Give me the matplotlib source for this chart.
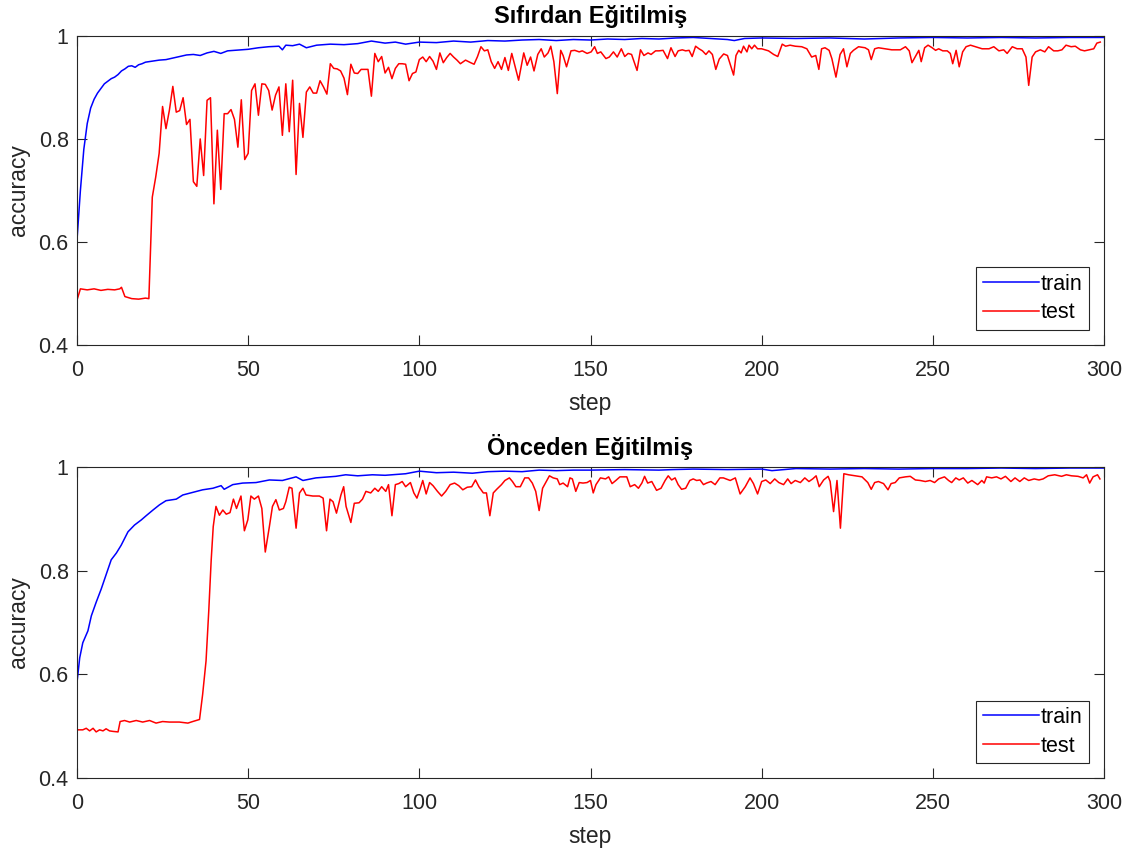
import matplotlib
matplotlib.use("Agg")
import matplotlib.pyplot as plt

plt.rcParams['font.family'] = ['Liberation Sans', 'DejaVu Sans']

# ---------------- data ----------------
step_ticks = [0, 50, 100, 150, 200, 250, 300]
acc_ticks = [0.4, 0.6, 0.8, 1.0]
acc_tick_labels = ['0.4', '0.6', '0.8', '1']

titles = ['Sıfırdan Eğitilmiş', 'Önceden Eğitilmiş']

# scratch model - train
scratch_train_step = [
    0, 1, 2, 3, 4, 5, 6, 7, 8, 9,
    10, 11, 12, 13, 14, 15, 16, 17, 18, 19,
    20, 22, 24, 26, 28, 30, 32, 34, 36, 38,
    40, 42, 44, 46, 48, 50, 53, 56, 59, 60,
    61, 63, 65, 67, 70, 74, 78, 82, 86, 90,
    93, 96, 100, 105, 110, 115, 120, 125, 130, 135,
    140, 145, 150, 155, 160, 165, 170, 175, 180, 185,
    190, 192, 195, 200, 210, 220, 230, 240, 250, 260,
    270, 280, 290, 300]
scratch_train_acc = [
    0.603, 0.70, 0.78, 0.83, 0.86, 0.877, 0.889, 0.898, 0.907, 0.912,
    0.917, 0.92, 0.925, 0.932, 0.936, 0.941, 0.942, 0.939, 0.944, 0.946,
    0.949, 0.951, 0.953, 0.954, 0.957, 0.96, 0.963, 0.964, 0.962, 0.967,
    0.97, 0.966, 0.971, 0.972, 0.973, 0.974, 0.977, 0.979, 0.98, 0.973,
    0.982, 0.981, 0.984, 0.977, 0.982, 0.984, 0.983, 0.985, 0.99, 0.986,
    0.988, 0.984, 0.988, 0.987, 0.99, 0.988, 0.991, 0.99, 0.992, 0.993,
    0.991, 0.993, 0.992, 0.994, 0.993, 0.995, 0.994, 0.996, 0.997, 0.995,
    0.993, 0.991, 0.995, 0.996, 0.995, 0.996, 0.994, 0.996, 0.997, 0.996,
    0.997, 0.996, 0.997, 0.997]

# scratch model - test
scratch_test_step = [
    0, 1, 3, 5, 7, 9, 11, 12.5, 13, 14,
    16, 18, 20, 21, 22, 23, 24, 25, 26, 27,
    28, 29, 30, 31, 32, 33, 34, 35, 36, 37,
    38, 39, 40, 41, 42, 43, 44, 45, 46, 47,
    48, 49, 50, 51, 52, 53, 54, 55, 56, 57,
    58, 59, 60, 61, 62, 63, 64, 65, 66, 67,
    68, 69, 70, 71, 72, 73, 74, 75, 76, 77,
    78, 79, 80, 81, 82, 83, 84, 85, 86, 87,
    88, 89, 90, 91, 92, 93, 94, 95, 96, 97,
    98, 99, 100, 101, 102, 103, 104, 105, 106, 107,
    108, 109, 110, 111, 112, 113.5, 115, 116, 117, 118,
    119, 120, 121, 122, 123, 124, 125, 126, 127, 128,
    129, 130.5, 131.5, 132.5, 133.5, 134.6, 135.6, 136.5, 137.6, 138.4,
    139.3, 140.3, 141.3, 142, 143, 144.3, 145.4, 146.7, 147.6, 149,
    150.2, 151.2, 152, 153, 154.5, 155.5, 156.7, 157.8, 159, 160,
    161, 162, 163.6, 164.6, 165.6, 166.8, 167.7, 169, 170, 171.2,
    172.5, 173.5, 174.7, 175.6, 176.8, 177.8, 178.8, 179.7, 180.7, 181.7,
    182.7, 183.7, 184.6, 185.6, 186.6, 187.6, 188.9, 190, 191.8, 192.5,
    193.3, 194, 194.7, 195.7, 196.3, 197.1, 197.9, 198.8, 200, 202,
    203.5, 204.7, 206, 207, 208.3, 209.8, 211.7, 213.2, 214.6, 215.8,
    216.7, 217.5, 218.5, 219.7, 220.5, 221.7, 222.9, 223.9, 224.9, 225.9,
    226.8, 228.3, 230.2, 231.2, 232, 233, 234.1, 236, 238, 240.5,
    242, 243.1, 243.9, 244.9, 245.9, 246.6, 247.6, 248.6, 249.8, 250.8,
    251.7, 252.9, 254.2, 255.1, 255.8, 256.8, 257.7, 258.7, 259.7, 261,
    262.5, 264.4, 266.4, 267.8, 269.3, 270.7, 271.7, 273.2, 274.6, 276.1,
    277.2, 278, 279, 280, 281.4, 282.7, 283.8, 285.3, 286.5, 287.7,
    288.9, 290.4, 291.6, 293.1, 294.3, 295.7, 297, 297.9, 298.9]
scratch_test_acc = [
    0.487, 0.509, 0.507, 0.509, 0.506, 0.508, 0.507, 0.509, 0.512, 0.494,
    0.490, 0.489, 0.491, 0.490, 0.687, 0.726, 0.772, 0.863, 0.820, 0.856,
    0.902, 0.852, 0.855, 0.880, 0.828, 0.838, 0.717, 0.708, 0.800, 0.729,
    0.875, 0.880, 0.674, 0.817, 0.702, 0.849, 0.849, 0.857, 0.838, 0.784,
    0.876, 0.760, 0.772, 0.894, 0.907, 0.846, 0.907, 0.906, 0.894, 0.856,
    0.885, 0.901, 0.807, 0.907, 0.814, 0.914, 0.731, 0.869, 0.803, 0.891,
    0.901, 0.889, 0.889, 0.913, 0.901, 0.887, 0.946, 0.937, 0.936, 0.932,
    0.918, 0.886, 0.945, 0.928, 0.927, 0.935, 0.935, 0.935, 0.883, 0.966,
    0.950, 0.960, 0.928, 0.939, 0.917, 0.937, 0.946, 0.946, 0.945, 0.913,
    0.927, 0.930, 0.954, 0.959, 0.950, 0.960, 0.951, 0.935, 0.967, 0.948,
    0.958, 0.966, 0.959, 0.953, 0.946, 0.953, 0.948, 0.945, 0.960, 0.979,
    0.971, 0.973, 0.950, 0.937, 0.950, 0.935, 0.958, 0.933, 0.966, 0.940,
    0.914, 0.967, 0.943, 0.959, 0.932, 0.964, 0.975, 0.959, 0.967, 0.980,
    0.950, 0.888, 0.972, 0.962, 0.940, 0.971, 0.972, 0.969, 0.971, 0.966,
    0.969, 0.979, 0.966, 0.969, 0.956, 0.959, 0.969, 0.959, 0.975, 0.960,
    0.966, 0.964, 0.933, 0.973, 0.962, 0.967, 0.964, 0.971, 0.971, 0.972,
    0.956, 0.977, 0.960, 0.971, 0.973, 0.971, 0.972, 0.960, 0.980, 0.975,
    0.971, 0.964, 0.971, 0.964, 0.935, 0.955, 0.965, 0.962, 0.924, 0.962,
    0.972, 0.967, 0.980, 0.969, 0.982, 0.975, 0.982, 0.975, 0.975, 0.971,
    0.964, 0.960, 0.984, 0.980, 0.982, 0.980, 0.979, 0.975, 0.959, 0.962,
    0.935, 0.975, 0.977, 0.972, 0.956, 0.920, 0.964, 0.975, 0.940, 0.966,
    0.972, 0.979, 0.977, 0.973, 0.954, 0.975, 0.977, 0.975, 0.973, 0.973,
    0.979, 0.971, 0.948, 0.960, 0.972, 0.950, 0.977, 0.982, 0.977, 0.972,
    0.975, 0.971, 0.971, 0.966, 0.946, 0.972, 0.940, 0.969, 0.979, 0.982,
    0.979, 0.975, 0.975, 0.979, 0.971, 0.973, 0.966, 0.979, 0.975, 0.975,
    0.959, 0.904, 0.959, 0.969, 0.973, 0.969, 0.979, 0.971, 0.971, 0.973,
    0.982, 0.979, 0.980, 0.973, 0.971, 0.973, 0.975, 0.986, 0.988]

# pretrained model - train
pretrained_train_step = [
    0, 0.8, 1.7, 3.2, 4.2, 5.6, 7.1, 8.6, 10, 11.5,
    12.9, 14.9, 16.8, 18.8, 20.2, 22.2, 24.1, 26, 29, 30.9,
    33.8, 36.7, 39.7, 42.1, 43, 45.5, 48.4, 52.3, 56.2, 60,
    64, 66, 69.8, 75.6, 78.5, 82, 86.3, 90, 96, 100,
    105, 110, 115.5, 120, 125, 130, 135, 140, 145, 150,
    160, 170, 174, 180, 190, 200, 203, 210, 220, 230,
    240, 250, 260, 270, 280, 290, 300]
pretrained_train_acc = [
    0.584, 0.632, 0.661, 0.684, 0.713, 0.739, 0.765, 0.794, 0.821, 0.834,
    0.849, 0.875, 0.888, 0.898, 0.906, 0.917, 0.927, 0.935, 0.938, 0.946,
    0.951, 0.956, 0.959, 0.964, 0.957, 0.966, 0.969, 0.970, 0.975, 0.974,
    0.981, 0.974, 0.979, 0.982, 0.985, 0.983, 0.985, 0.984, 0.987, 0.992,
    0.989, 0.990, 0.988, 0.991, 0.992, 0.991, 0.994, 0.993, 0.994, 0.994,
    0.995, 0.994, 0.995, 0.996, 0.995, 0.996, 0.993, 0.997, 0.996, 0.997,
    0.996, 0.997, 0.997, 0.998, 0.997, 0.998, 0.998]

# pretrained model - test
pretrained_test_step = [
    0, 1.7, 2.7, 3.7, 4.7, 5.6, 6.6, 7.6, 8.5, 9.5,
    10.5, 12, 12.6, 13.9, 15.4, 17.3, 19.2, 21.2, 23.1, 25,
    27, 29.9, 32.4, 33.8, 35.8, 36.7, 37.7, 38.5, 39.2, 39.8,
    40.6, 41.6, 42.6, 43.6, 44.7, 45.7, 46.6, 47.9, 48.9, 49.9,
    50.8, 51.8, 53, 54, 55, 56.2, 57.1, 58.1, 59.1, 60.3,
    61, 62, 62.8, 64, 65, 66, 66.9, 68.9, 70.8, 71.9,
    72.9, 73.9, 74.8, 75.8, 77.1, 77.9, 78.6, 80, 81, 82.4,
    83.4, 84.4, 85.8, 87, 88, 89, 90.2, 91, 92, 93,
    94, 95, 96, 97.4, 98.4, 99.3, 100.3, 101, 102, 103,
    104, 105.3, 106.5, 107.7, 109, 110.3, 111.5, 112.7, 114, 115.3,
    116.4, 117.4, 118.7, 119.6, 120.6, 121.6, 122.6, 124, 125, 126.3,
    127.2, 128.2, 129.5, 130.8, 131.9, 133, 134, 135, 136, 137.1,
    138, 139.1, 140.3, 141, 142, 143.3, 144, 144.7, 145.7, 146.7,
    147.8, 149, 150, 150.8, 151.6, 152.9, 154.4, 155.3, 156.3, 157.4,
    158.6, 160.6, 161.6, 162.9, 164, 165, 165.8, 166.7, 167.9, 169.3,
    170.6, 171.8, 172.7, 173.7, 174.7, 175.6, 176.6, 177.8, 179, 180,
    181, 182, 183, 183.9, 185.2, 186.4, 187.8, 188.8, 190.8, 192.3,
    193.7, 195.2, 196.6, 197.6, 198.8, 200, 201.2, 202.5, 203.8, 205,
    206.4, 207.6, 208.6, 209.8, 211.3, 212.6, 213.8, 214.9, 215.9, 216.8,
    218.1, 219.4, 220, 221, 222, 223, 224, 225.4, 227.3, 229.3,
    231, 232, 233, 234.1, 235.6, 236.9, 237.8, 239, 240.2, 242,
    243.4, 244.9, 246.3, 247.8, 249.2, 250.5, 251.7, 253.4, 254.6, 255.5,
    256.7, 257.7, 258.9, 260.2, 261.4, 263.1, 264.3, 265, 265.7, 267.2,
    268.6, 269.9, 271.2, 272.8, 274, 275.4, 276.7, 278, 279.6, 281,
    282.2, 283.7, 285.6, 287.6, 289, 290.5, 292.4, 293.9, 294.9, 295.8,
    296.8, 298.1, 298.8]
pretrained_test_acc = [
    0.493, 0.493, 0.496, 0.491, 0.496, 0.489, 0.493, 0.491, 0.495, 0.491,
    0.490, 0.489, 0.509, 0.511, 0.508, 0.511, 0.508, 0.511, 0.506, 0.509,
    0.508, 0.508, 0.506, 0.509, 0.513, 0.561, 0.626, 0.723, 0.820, 0.885,
    0.924, 0.907, 0.917, 0.909, 0.912, 0.938, 0.920, 0.944, 0.877, 0.898,
    0.944, 0.938, 0.944, 0.920, 0.836, 0.885, 0.924, 0.937, 0.917, 0.920,
    0.933, 0.961, 0.959, 0.882, 0.950, 0.959, 0.946, 0.944, 0.944, 0.940,
    0.877, 0.938, 0.933, 0.911, 0.946, 0.962, 0.924, 0.893, 0.930, 0.931,
    0.938, 0.953, 0.950, 0.959, 0.953, 0.962, 0.953, 0.966, 0.906, 0.966,
    0.968, 0.972, 0.962, 0.970, 0.950, 0.940, 0.959, 0.974, 0.948, 0.970,
    0.964, 0.953, 0.944, 0.953, 0.966, 0.969, 0.964, 0.956, 0.961, 0.962,
    0.975, 0.962, 0.950, 0.950, 0.906, 0.950, 0.957, 0.966, 0.974, 0.979,
    0.972, 0.962, 0.962, 0.979, 0.979, 0.969, 0.953, 0.916, 0.959, 0.972,
    0.983, 0.979, 0.977, 0.966, 0.969, 0.962, 0.979, 0.977, 0.953, 0.970,
    0.969, 0.970, 0.974, 0.950, 0.966, 0.979, 0.977, 0.981, 0.968, 0.974,
    0.981, 0.981, 0.962, 0.966, 0.959, 0.969, 0.982, 0.969, 0.972, 0.955,
    0.959, 0.974, 0.983, 0.975, 0.979, 0.966, 0.957, 0.959, 0.974, 0.977,
    0.974, 0.975, 0.966, 0.969, 0.972, 0.966, 0.979, 0.979, 0.974, 0.979,
    0.948, 0.962, 0.979, 0.968, 0.948, 0.972, 0.975, 0.968, 0.977, 0.970,
    0.966, 0.977, 0.968, 0.974, 0.970, 0.979, 0.972, 0.977, 0.983, 0.962,
    0.975, 0.982, 0.972, 0.914, 0.974, 0.882, 0.987, 0.985, 0.983, 0.981,
    0.970, 0.957, 0.970, 0.972, 0.968, 0.956, 0.968, 0.970, 0.979, 0.981,
    0.982, 0.975, 0.974, 0.972, 0.974, 0.970, 0.977, 0.981, 0.974, 0.970,
    0.979, 0.975, 0.979, 0.969, 0.974, 0.966, 0.974, 0.969, 0.981, 0.979,
    0.981, 0.977, 0.982, 0.972, 0.979, 0.972, 0.979, 0.974, 0.977, 0.975,
    0.977, 0.983, 0.985, 0.982, 0.985, 0.983, 0.982, 0.979, 0.985, 0.969,
    0.981, 0.985, 0.977]

# ---------------- figure ----------------
INK = '#262626'
TICK_FS = 15.5
LABEL_FS = 16.5
TITLE_FS = 17
LEGEND_FS = 15.5

fig = plt.figure(figsize=(11.37, 8.55), dpi=100)
fig.patch.set_facecolor('white')

panels = [
    (fig.add_axes([0.0677, 0.5965, 0.9033, 0.3615]),
     scratch_train_step, scratch_train_acc, scratch_test_step, scratch_test_acc),
    (fig.add_axes([0.0677, 0.0900, 0.9033, 0.3638]),
     pretrained_train_step, pretrained_train_acc, pretrained_test_step, pretrained_test_acc),
]

for (ax, tr_x, tr_y, te_x, te_y), title in zip(panels, titles):
    ax.plot(tr_x, tr_y, color=(0, 0, 1), lw=1.1, label='train')
    ax.plot(te_x, te_y, color=(1, 0, 0), lw=1.1, label='test')
    ax.set_xlim(0, 300)
    ax.set_ylim(0.4, 1.0)
    ax.set_xticks(step_ticks)
    ax.set_yticks(acc_ticks)
    ax.set_yticklabels(acc_tick_labels)
    ax.tick_params(direction='in', length=7, width=0.8, colors=INK,
                   labelsize=TICK_FS, top=True, right=True)
    ax.tick_params(axis='x', pad=11)
    ax.tick_params(axis='y', pad=6)
    for s in ax.spines.values():
        s.set_color(INK)
        s.set_linewidth(0.8)
    ax.set_title(title, fontsize=TITLE_FS, fontweight='bold', color='black', pad=9)
    ax.set_xlabel('step', fontsize=LABEL_FS, color=INK, labelpad=8)
    ax.set_ylabel('accuracy', fontsize=LABEL_FS, color=INK, labelpad=6)
    leg = ax.legend(loc='lower right', fontsize=LEGEND_FS, frameon=True, fancybox=False,
                    framealpha=1, edgecolor=INK, handlelength=2.6,
                    handletextpad=0.1, borderpad=0.3, labelspacing=0.35,
                    borderaxespad=0.7)
    leg.get_frame().set_linewidth(0.8)

fig.savefig('out.png', dpi=100)
